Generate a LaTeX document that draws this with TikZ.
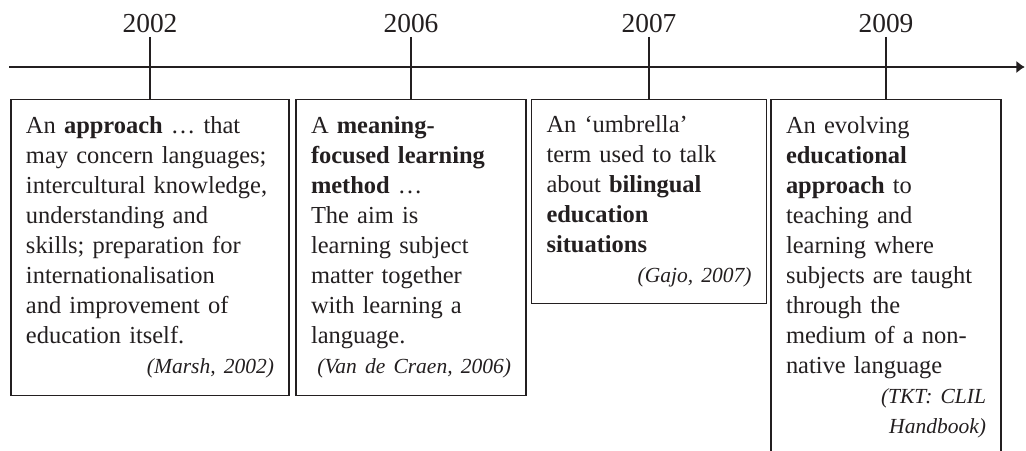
\documentclass[tikz,border=0pt]{standalone}
\usepackage{fontspec}
\setmainfont{Liberation Serif}
\usepackage{tikz}
\usetikzlibrary{arrows.meta}
\definecolor{ink}{HTML}{231F20}
\hyphenpenalty=10000
\tikzset{
    yearnode/.style = {anchor=south, inner sep=0.1cm, text=ink, font=\fontsize{19.5pt}{23pt}\selectfont},
    boxnode/.style = {anchor=north, draw=ink, line width=0.9pt, text=ink, align=left, text width=#1, inner xsep=0.375cm, inner ysep=0pt, font=\fontsize{17.4pt}{21.34pt}\selectfont},
    edgetl/.style = {-{Latex[length=6pt,width=9pt]}, line width=2.1pt, ink},
    edgetick/.style = {-, line width=2.1pt, ink}
}
\newcommand{\srcref}[1]{\mbox{}\hfill{\fontsize{15.3pt}{21.34pt}\selectfont\itshape #1}}

\begin{document}
\begin{tikzpicture}
\path[use as bounding box] (0,0) rectangle (25.65, 11.25);
\clip (0,0) rectangle (25.65, 11.25);
%
\coordinate (tlstart) at (0.225, 9.575);
\coordinate (tlend) at (25.62, 9.575);
%
\node[yearnode] at (3.75, 10.325) (y2002) {2002};
\node[yearnode] at (10.275, 10.325) (y2006) {2006};
\node[yearnode] at (16.225, 10.325) (y2007) {2007};
\node[yearnode] at (22.15, 10.325) (y2009) {2009};
%
\node[boxnode=6.2cm, minimum height=7.4cm] at (3.75, 8.775) (b2002) {%
An \textbf{approach} … that\\
may concern languages;\\
intercultural knowledge,\\
understanding and\\
skills; preparation for\\
internationalisation\\
and improvement of\\
education itself.\\
\srcref{(Marsh, 2002)}};
\node[boxnode=5.0cm, minimum height=7.4cm] at (10.275, 8.775) (b2006) {%
A \textbf{meaning-}\\
\textbf{focused learning}\\
\textbf{method} …\\
The aim is\\
learning subject\\
matter together\\
with learning a\\
language.\\
\srcref{(Van de Craen, 2006)}};
\node[boxnode=5.125cm, minimum height=5.1cm] at (16.225, 8.775) (b2007) {%
An ‘umbrella’\\
term used to talk\\
about \textbf{bilingual}\\
\textbf{education}\\
\textbf{situations}\\
\srcref{(Gajo, 2007)}};
\node[boxnode=5.0cm, minimum height=8.9cm] at (22.15, 8.775) (b2009) {%
An evolving\\
\textbf{educational}\\
\textbf{approach} to\\
teaching and\\
learning where\\
subjects are taught\\
through the\\
medium of a non-\\
native language\\
\srcref{(TKT: CLIL}\\
\srcref{Handbook)}};
%
\draw[edgetl] (tlstart) -- (tlend);
\draw[edgetick] (y2002.south) -- (b2002.north);
\draw[edgetick] (y2006.south) -- (b2006.north);
\draw[edgetick] (y2007.south) -- (b2007.north);
\draw[edgetick] (y2009.south) -- (b2009.north);
\end{tikzpicture}
\end{document}
